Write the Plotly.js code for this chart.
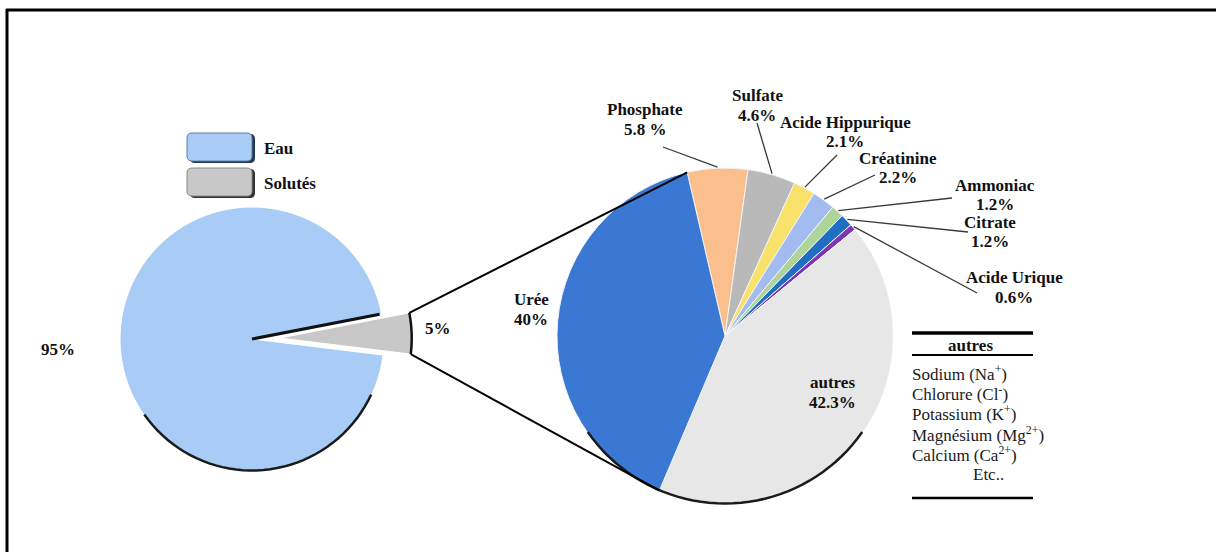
<!DOCTYPE html>
<html><head><meta charset="utf-8">
<script src="https://cdn.plot.ly/plotly-3.0.1.min.js"></script>
<style>html,body{margin:0;padding:0;background:#fff;}#chart{width:1216px;height:552px;}</style>
</head><body><div id="chart"></div>
<script>
// ---------- data ----------
const mainLabels = ['Eau', 'Solutés'];
const mainValues = [95, 5];
const soluteLabels = ['Phosphate', 'Sulfate', 'Acide Hippurique', 'Créatinine', 'Ammoniac', 'Citrate', 'Acide Urique', 'autres', 'Urée'];
const soluteValues = [5.8, 4.6, 2.1, 2.2, 1.2, 1.2, 0.6, 42.3, 40];
const soluteValueText = ['5.8 %', '4.6%', '2.1%', '2.2%', '1.2%', '1.2%', '0.6%', '42.3%', '40%'];
const autresTitle = 'autres';
const autresItems = ['Sodium (Na<sup>+</sup>)', 'Chlorure (Cl<sup>-</sup>)', 'Potassium (K<sup>+</sup>)', 'Magnésium (Mg<sup>2+</sup>)', 'Calcium (Ca<sup>2+</sup>)', 'Etc..'];

// ---------- styles / layout ----------
const W = 1216, H = 552;
const FONT = 'Liberation Serif, Times New Roman, serif';
const mainColors = ['#a8ccf6', '#c8c8c8'];
const soluteColors = ['#fbbf8d', '#b9b9b9', '#f8e26c', '#a2bcf2', '#acd49b', '#1f6ec4', '#7a36b4', '#e7e7e7', '#3b78d4'];
const LP = {cx: 252, cy: 339, r: 132, pull: 0.21, dir: 88};   // left pie
const RP = {cx: 725, cy: 336, r: 168, rot: -13};               // right pie
// label block centres (pixels) for right-pie labels, same order as soluteLabels
const labelPos = [[645, 119.5], [757, 105.5], [845, 132], [898, 168], [995, 195], [990, 232], [1014, 287.5], [832, 392.5], [531, 309.5]];
// leader-line start points (pixels); null = label without leader line
const tailPos = [[663, 147], [757, 123], [837, 155], [875, 175], [952, 198], [968, 232], [977, 293], null, null];
const LINE_GAP = 19.5;

const X = px => px / W;
const Y = py => 1 - py / H;
const pt = (cx, cy, r, a) => [cx + r * Math.sin(a * Math.PI / 180), cy - r * Math.cos(a * Math.PI / 180)];

// left pie geometry
const mainTotal = mainValues.reduce((a, b) => a + b, 0);
const solAng = 360 * mainValues[1] / mainTotal;
const leftRot = LP.dir + solAng / 2;          // Eau starts where Solutés ends (clockwise)
const solA0 = LP.dir - solAng / 2, solA1 = LP.dir + solAng / 2;
const pullC = pt(LP.cx, LP.cy, LP.r * LP.pull, LP.dir);

// right pie geometry
const solTotal = soluteValues.reduce((a, b) => a + b, 0);
const cum = [0];
soluteValues.forEach(v => cum.push(cum[cum.length - 1] + v));
const angAt = i => RP.rot + 360 * cum[i] / solTotal;

function domainFor(cx, cy, r, pull) {
  const R = r * (1 + pull);
  return {x: [(cx - R) / W, (cx + R) / W], y: [1 - (cy + R) / H, 1 - (cy - R) / H]};
}
function arcPath(cx, cy, r, a0, a1) {
  let s = '';
  const n = 40;
  for (let k = 0; k <= n; k++) {
    const a = a0 + (a1 - a0) * k / n;
    const p = pt(cx, cy, r, a);
    s += (k === 0 ? 'M ' : ' L ') + X(p[0]).toFixed(5) + ',' + Y(p[1]).toFixed(5);
  }
  return s;
}
function roundRect(x0, y0, x1, y1, rr) {
  return `M ${X(x0 + rr)},${Y(y0)} L ${X(x1 - rr)},${Y(y0)} Q ${X(x1)},${Y(y0)} ${X(x1)},${Y(y0 + rr)} L ${X(x1)},${Y(y1 - rr)} Q ${X(x1)},${Y(y1)} ${X(x1 - rr)},${Y(y1)} L ${X(x0 + rr)},${Y(y1)} Q ${X(x0)},${Y(y1)} ${X(x0)},${Y(y1 - rr)} L ${X(x0)},${Y(y0 + rr)} Q ${X(x0)},${Y(y0)} ${X(x0 + rr)},${Y(y0)} Z`;
}
const lineShape = (x0, y0, x1, y1, w, c) => ({type: 'line', xref: 'paper', yref: 'paper', x0: X(x0), y0: Y(y0), x1: X(x1), y1: Y(y1), line: {color: c || '#000', width: w}});

// ---------- traces ----------
const traces = [
  {
    type: 'pie', labels: mainLabels, values: mainValues, sort: false, direction: 'clockwise',
    rotation: leftRot, pull: [0, LP.pull], textinfo: 'none', hoverinfo: 'none',
    marker: {colors: mainColors, line: {color: '#ffffff', width: 1}},
    domain: domainFor(LP.cx, LP.cy, LP.r, LP.pull), showlegend: false
  },
  {
    type: 'pie', labels: soluteLabels, values: soluteValues, sort: false, direction: 'clockwise',
    rotation: RP.rot, textinfo: 'none', hoverinfo: 'none',
    marker: {colors: soluteColors, line: {color: '#f4f4f4', width: 1}},
    domain: domainFor(RP.cx, RP.cy, RP.r, 0), showlegend: false
  }
];

// ---------- shapes ----------
const shapes = [];
// frame
shapes.push(lineShape(6, 10, W, 10, 3));
shapes.push(lineShape(7, 9, 7, H, 3));
// 3D-ish dark rims
shapes.push({type: 'path', xref: 'paper', yref: 'paper', path: arcPath(LP.cx, LP.cy, LP.r - 0.5, 115, 235), line: {color: '#1b1b1b', width: 2.5}});
shapes.push({type: 'path', xref: 'paper', yref: 'paper', path: arcPath(RP.cx, RP.cy, RP.r - 0.5, 125, 235), line: {color: '#1b1b1b', width: 2.5}});
shapes.push({type: 'path', xref: 'paper', yref: 'paper', path: arcPath(pullC[0], pullC[1], LP.r, solA0, solA1), line: {color: '#111', width: 2.5}});
// dark edge on upper side of the Eau notch
const notchEnd = pt(LP.cx, LP.cy, LP.r - 2, solA0);
shapes.push(lineShape(LP.cx, LP.cy, notchEnd[0], notchEnd[1], 3, '#111'));
// connecting lines: Solutés slice corners -> Urée boundaries on the right pie
const ureeIdx = soluteLabels.indexOf('Urée');
const solTop = pt(pullC[0], pullC[1], LP.r, solA0);
const solBot = pt(pullC[0], pullC[1], LP.r, solA1);
const rTop = pt(RP.cx, RP.cy, RP.r, angAt(ureeIdx + 1));
const rBot = pt(RP.cx, RP.cy, RP.r, angAt(ureeIdx));
shapes.push(lineShape(solTop[0], solTop[1], rTop[0], rTop[1], 2));
shapes.push(lineShape(solBot[0], solBot[1], rBot[0], rBot[1], 2));
// leader lines for right-pie labels (tip at slice middle on the rim)
soluteLabels.forEach((lab, i) => {
  if (!tailPos[i]) return;
  const mid = (angAt(i) + angAt(i + 1)) / 2;
  const tip = pt(RP.cx, RP.cy, RP.r + 1, mid);
  shapes.push(lineShape(tailPos[i][0], tailPos[i][1], tip[0], tip[1], 1.3, '#3a3a3a'));
});
// legend boxes
mainLabels.forEach((lab, i) => {
  const y0 = 133 + i * 35;
  shapes.push({type: 'path', xref: 'paper', yref: 'paper', path: roundRect(190, y0 + 1, 255, y0 + 30, 5), fillcolor: i === 0 ? '#24384f' : '#333333', line: {width: 0}});
  shapes.push({type: 'path', xref: 'paper', yref: 'paper', path: roundRect(187, y0, 252, y0 + 28, 5), fillcolor: mainColors[i], line: {color: i === 0 ? '#5d7fa6' : '#8a8a8a', width: 1}});
});
// "autres" table rules
shapes.push(lineShape(912, 333, 1033, 333, 3.5));
shapes.push(lineShape(912, 355, 1033, 355, 2));
shapes.push(lineShape(912, 498, 1033, 498, 2.5));

// ---------- annotations ----------
const ann = [];
const txt = (x, y, text, opts) => Object.assign({xref: 'paper', yref: 'paper', x: X(x), y: Y(y), text: text, showarrow: false,
  xanchor: 'center', yanchor: 'middle', font: {family: FONT, size: 17, color: '#111'}}, opts || {});
// left pie
ann.push(txt(58, 349, '<b>' + mainValues[0] + '%</b>'));
ann.push(txt(438, 328, '<b>' + mainValues[1] + '%</b>'));
mainLabels.forEach((lab, i) => ann.push(txt(262, 148 + i * 35, '<b>' + lab + '</b>', {xanchor: 'left'})));
// right pie labels (name line + value line)
soluteLabels.forEach((lab, i) => {
  const [lx, ly] = labelPos[i];
  ann.push(txt(lx, ly - LINE_GAP / 2, '<b>' + lab + '</b>'));
  ann.push(txt(lx, ly + LINE_GAP / 2, '<b>' + soluteValueText[i] + '</b>'));
});
// table
ann.push(txt(970, 345, '<b>' + autresTitle + '</b>'));
autresItems.forEach((it, i) => {
  const last = i === autresItems.length - 1;
  ann.push(txt(last ? 988 : 910, 373 + i * 20.2, it, {xanchor: last ? 'center' : 'left', font: {family: FONT, size: 17, color: '#1a1a1a'}}));
});

const layout = {
  width: W, height: H, margin: {l: 0, r: 0, t: 0, b: 0},
  paper_bgcolor: '#ffffff', plot_bgcolor: '#ffffff', showlegend: false,
  shapes: shapes, annotations: ann
};
Plotly.newPlot('chart', traces, layout, {staticPlot: true, displayModeBar: false});
</script>
</body></html>
